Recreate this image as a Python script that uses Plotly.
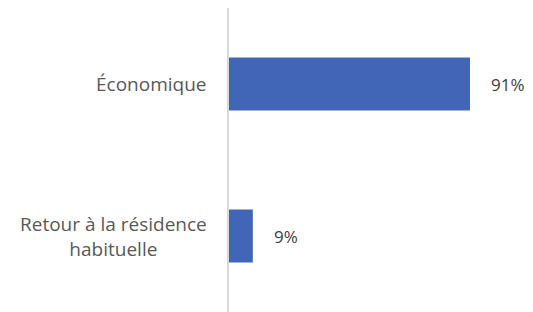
import plotly.graph_objects as go

categories = ["Économique", "Retour à la résidence<br>habituelle"]
values = [91, 9]
value_labels = ["91%", "9%"]

bar_color = "#4166B7"
font_family = "'Open Sans', sans-serif"

fig = go.Figure()
fig.add_trace(go.Bar(
    x=values,
    y=categories,
    orientation="h",
    marker=dict(color=bar_color, line=dict(width=0)),
    hoverinfo="skip",
))

for cat, val, lab in zip(categories, values, value_labels):
    fig.add_annotation(
        x=val, y=cat, xref="x", yref="y",
        text=lab, showarrow=False,
        xanchor="left", xshift=19,
        font=dict(family=font_family, size=17, color="#404040"),
    )
    fig.add_annotation(
        x=0, y=cat, xref="paper", yref="y",
        text=cat, showarrow=False,
        xanchor="right", xshift=-20, align="center",
        font=dict(family=font_family, size=19, color="#595959"),
    )

fig.update_layout(
    width=525, height=304,
    margin=dict(l=221, r=0, t=0, b=0),
    paper_bgcolor="white", plot_bgcolor="white",
    showlegend=False,
    bargap=0.65,
    xaxis=dict(range=[0, 114.8], showgrid=False, zeroline=False,
               showticklabels=False, showline=False, fixedrange=True),
    yaxis=dict(range=[-0.5 + 304 / 152, -0.5], showgrid=False, zeroline=False,
               showticklabels=False, showline=True, linecolor="#D9D9D9",
               linewidth=1.5, ticks=""),
)

fig.write_html("out.html")
